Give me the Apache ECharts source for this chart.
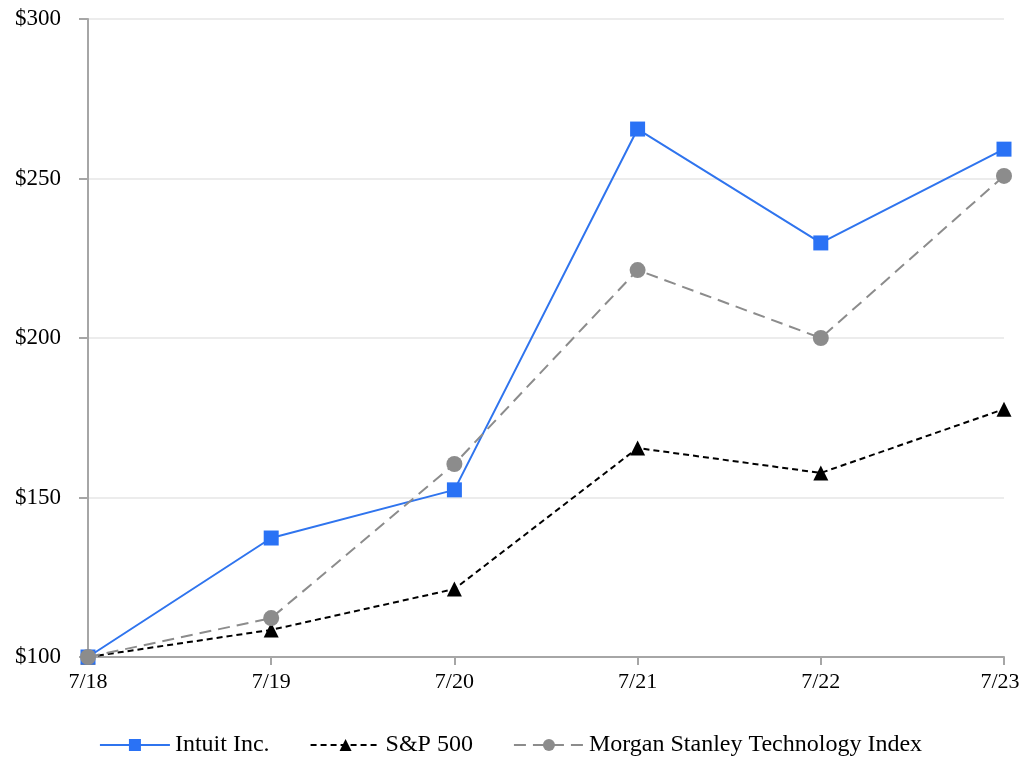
<!DOCTYPE html>
<html><head><meta charset="utf-8">
<script src="https://cdn.jsdelivr.net/npm/echarts@6/dist/echarts.min.js"></script>
<style>html,body{margin:0;padding:0;background:#fff;overflow:hidden;}#c{width:1021px;height:758px;}</style>
</head><body><div id="c"></div>
<script>
const categories = ['7/18','7/19','7/20','7/21','7/22','7/23'];
const intuit = [100, 137.3, 152.4, 265.5, 229.8, 259.2];
const sp500 = [100, 108.5, 121.3, 165.5, 157.7, 177.7];
const msTech = [100, 112.2, 160.5, 221.3, 200.0, 250.8];
const seriesNames = ['Intuit Inc.', 'S&P 500', 'Morgan Stanley Technology Index'];

const font = '"Liberation Serif", "Times New Roman", serif';
const chart = echarts.init(document.getElementById('c'));
chart.setOption({
  animation: false,
  textStyle: {fontFamily: font},
  grid: {left: 88, right: 17, top: 19, bottom: 101, containLabel: false, outerBoundsMode: 'none'},
  legend: {
    bottom: 0, left: 'center', padding: 0, itemWidth: 70, itemHeight: 15, itemGap: 40,
    textStyle: {fontFamily: font, fontSize: 24, color: '#000', lineHeight: 26},
    data: seriesNames
  },
  xAxis: {
    type: 'category', data: categories, boundaryGap: false,
    axisLine: {lineStyle: {color: '#a6a6a6', width: 2}},
    axisTick: {show: true, alignWithLabel: true, length: 8, lineStyle: {color: '#a6a6a6', width: 2}},
    axisLabel: {fontFamily: font, fontSize: 22, color: '#000', margin: 14,
      formatter: (v, i) => i === categories.length - 1 ? '{r|' + v + '}' : v,
      rich: {r: {fontFamily: font, fontSize: 22, color: '#000', padding: [0, 8, 0, 0]}}},
    splitLine: {show: false}
  },
  yAxis: {
    type: 'value', min: 100, max: 300, interval: 50,
    axisLine: {show: true, lineStyle: {color: '#a6a6a6', width: 2}},
    axisTick: {show: true, length: 9, lineStyle: {color: '#a6a6a6', width: 2}},
    axisLabel: {fontFamily: font, fontSize: 23, color: '#000', margin: 27, formatter: v => '$' + v},
    splitLine: {show: true, lineStyle: {color: '#e6e6e6', width: 1.5}}
  },
  series: [
    {name: seriesNames[0], type: 'line', data: intuit, symbol: 'rect', symbolSize: 15,
     lineStyle: {color: '#2f74ee', width: 2}, itemStyle: {color: '#2a72f5'}, z: 3},
    {name: seriesNames[1], type: 'line', data: sp500, symbol: 'triangle', symbolSize: 15,
     lineStyle: {color: '#000', width: 2, type: [6, 4]}, itemStyle: {color: '#000'}, z: 2},
    {name: seriesNames[2], type: 'line', data: msTech, symbol: 'circle', symbolSize: 16,
     lineStyle: {color: '#8c8c8c', width: 2, type: [12, 7]}, itemStyle: {color: '#8c8c8c'}, z: 4}
  ]
});
</script></body></html>
